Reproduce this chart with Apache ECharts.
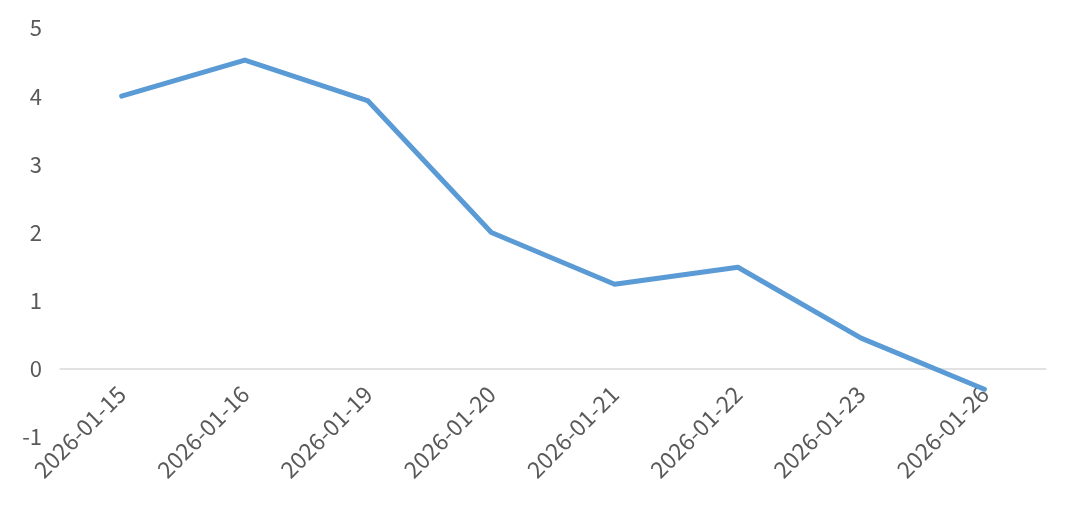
<!DOCTYPE html>
<html>
<head>
<meta charset="utf-8">
<script src="https://cdn.jsdelivr.net/npm/echarts@6/dist/echarts.min.js"></script>
<style>
  html, body { margin: 0; padding: 0; background: #fff; }
  #chart { width: 1080px; height: 508px; }
</style>
</head>
<body>
<div id="chart"></div>
<script>
const dates = ["2026-01-15", "2026-01-16", "2026-01-19", "2026-01-20", "2026-01-21", "2026-01-22", "2026-01-23", "2026-01-26"];
const values = [4.0, 4.53, 3.93, 2.0, 1.24, 1.49, 0.45, -0.3];
const yMin = -1;
const yMax = 5;

const myChart = echarts.init(document.getElementById("chart"));
const option = {
  animation: false,
  textStyle: { fontFamily: "Noto Sans CJK SC" },
  grid: { left: 60, right: 34, top: 28, bottom: 71, containLabel: false, outerBoundsMode: "none" },
  xAxis: {
    type: "category",
    data: dates,
    boundaryGap: true,
    axisLine: { onZero: true, lineStyle: { color: "#d9d9d9", width: 1.5 } },
    axisTick: { show: false },
    axisLabel: {
      rotate: 45,
      interval: 0,
      // labels stay at the grid bottom, pull them up under the zero line
      margin: -47,
      color: "#595959",
      fontSize: 23,
      fontFamily: "Noto Sans CJK SC"
    }
  },
  yAxis: {
    type: "value",
    min: yMin,
    max: yMax,
    interval: 1,
    axisLine: { show: false },
    axisTick: { show: false },
    splitLine: { show: false },
    axisLabel: {
      margin: 18,
      color: "#595959",
      fontSize: 22,
      fontFamily: "Noto Sans CJK SC"
    }
  },
  series: [
    {
      type: "line",
      data: values,
      symbol: "none",
      lineStyle: { color: "#5b9bd5", width: 5, cap: "round", join: "round" }
    }
  ]
};
myChart.setOption(option);
window.addEventListener("resize", myChart.resize);
</script>
</body>
</html>
